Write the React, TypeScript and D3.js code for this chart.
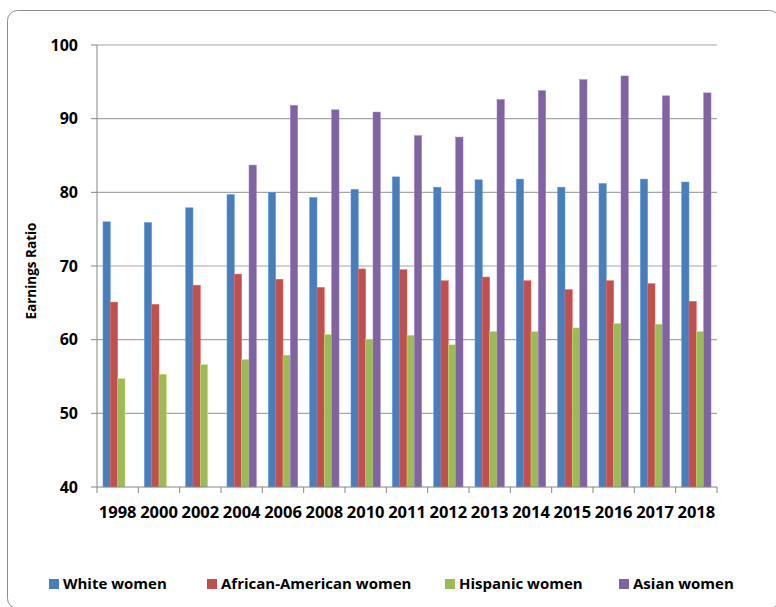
import React from "react";
import * as d3 from "d3";

const years = ["1998","2000","2002","2004","2006","2008","2010","2011","2012","2013","2014","2015","2016","2017","2018"];
const white = [76.0,75.9,77.9,79.7,80.0,79.3,80.4,82.1,80.7,81.7,81.8,80.7,81.2,81.8,81.4];
const africanAmerican = [65.1,64.8,67.4,68.9,68.2,67.1,69.6,69.5,68.0,68.5,68.0,66.8,68.0,67.6,65.2];
const hispanic = [54.7,55.3,56.6,57.3,57.9,60.7,60.0,60.6,59.3,61.1,61.1,61.6,62.2,62.1,61.1];
const asian = [null,null,null,83.7,91.8,91.2,90.9,87.7,87.5,92.6,93.8,95.3,95.8,93.1,93.5];
const seriesNames = ["White women","African-American women","Hispanic women","Asian women"];
const seriesColors = ["#4A7EBB","#C0504D","#9BBB59","#8064A2"];
const yTicks = [40,50,60,70,80,90,100];

const seriesValues: (number | null)[][] = [white, africanAmerican, hispanic, asian];

export default function App() {
  const left = 97, right = 717, top = 45, bottom = 487;
  const x = d3.scaleBand<string>().domain(years).range([left, right]).paddingInner(0).paddingOuter(0);
  const y = d3.scaleLinear().domain([40, 100]).range([bottom, top]);
  const bw = x.bandwidth();
  const barW = bw / 5.63;
  const groupOffset = (bw - 4 * barW) / 2;
  const font = "'Open Sans', sans-serif";
  const legendX = [49, 207, 445, 619];

  return (
    <svg width={776} height={607} style={{ position: "absolute", left: 0, top: 0 }} fontFamily={font}>
      <rect x={0} y={0} width={776} height={607} fill="#fff" />
      <rect x={7.5} y={10.5} width={772} height={598} rx={10} fill="none" stroke="#8c8c8c" strokeWidth={1} />
      {yTicks.map((t) => (
        <g key={t}>
          {t !== 40 && <line x1={left} x2={right} y1={y(t)} y2={y(t)} stroke="#a6a6a6" strokeWidth={1.2} />}
          <line x1={left - 6} x2={left} y1={y(t)} y2={y(t)} stroke="#868686" strokeWidth={1} />
          <text x={78} y={y(t)} dy="0.35em" textAnchor="end" fontSize={16} fontWeight="bold" fill="#000">{t}</text>
        </g>
      ))}
      {years.map((yr, i) => (
        <g key={yr}>
          {seriesValues.map((vals, s) => {
            const v = vals[i];
            if (v == null) return null;
            const bx = (x(yr) as number) + groupOffset + s * barW;
            return (
              <rect key={s} x={bx} y={y(v)} width={barW} height={y(40) - y(v)} fill={seriesColors[s]}
                stroke={d3.color(seriesColors[s])!.brighter(0.6).toString()} strokeWidth={0.5} />
            );
          })}
          <text x={(x(yr) as number) + bw / 2} y={518} textAnchor="middle" fontSize={16.5} fontWeight="bold" fill="#000">{yr}</text>
        </g>
      ))}
      {[...years.map((yr) => x(yr) as number), right].map((px, i) => (
        <line key={i} x1={px} x2={px} y1={bottom} y2={bottom + 6} stroke="#868686" strokeWidth={1} />
      ))}
      <line x1={left} x2={right} y1={bottom} y2={bottom} stroke="#868686" strokeWidth={1} />
      <line x1={left} x2={left} y1={top} y2={bottom} stroke="#868686" strokeWidth={1} />
      <text transform={`translate(36,271) rotate(-90)`} textAnchor="middle" fontSize={13.5} fontWeight="bold" fill="#000">Earnings Ratio</text>
      {seriesNames.map((n, s) => (
        <g key={n}>
          <rect x={legendX[s]} y={579} width={10} height={10} fill={seriesColors[s]} />
          <text x={legendX[s] + 14} y={584} dy="0.35em" fontSize={15} fontWeight="bold" fill="#000">{n}</text>
        </g>
      ))}
    </svg>
  );
}
